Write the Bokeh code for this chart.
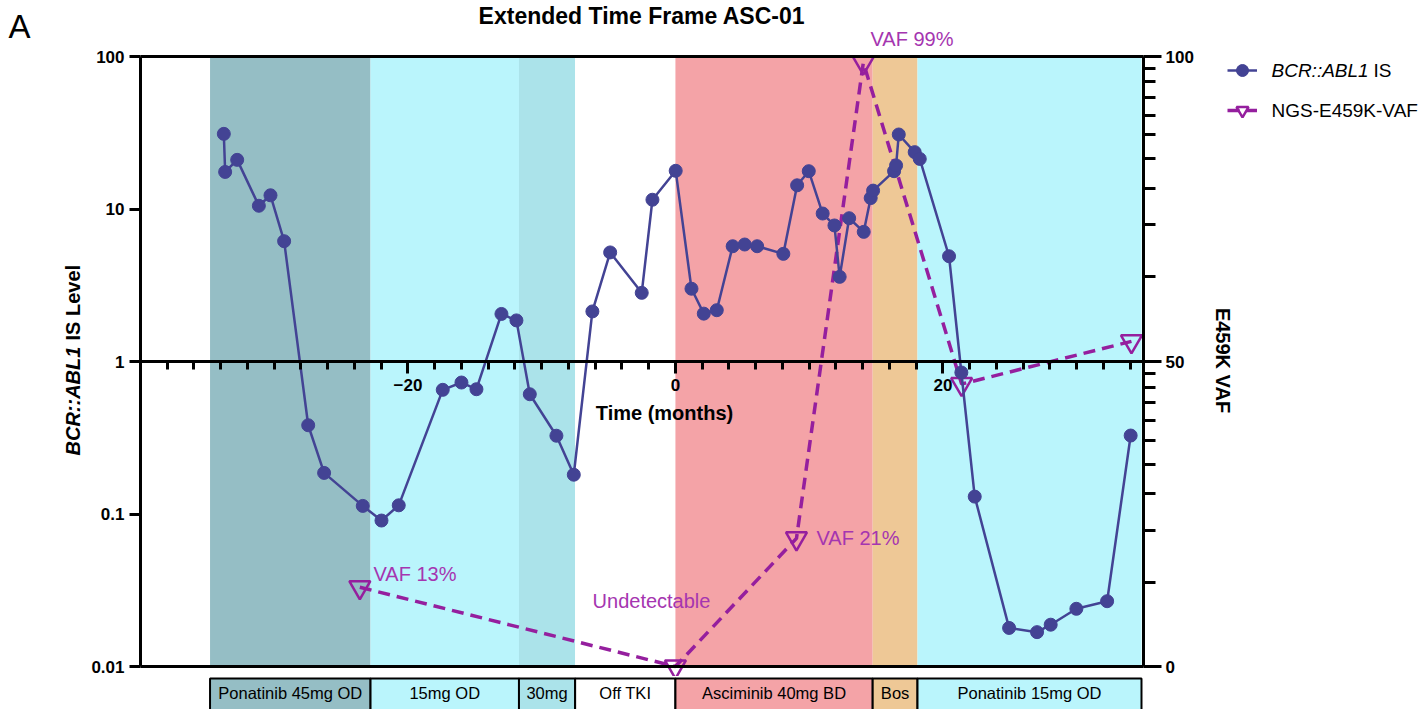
import math
from bokeh.plotting import figure
from bokeh.models import (Range1d, LinearAxis, LinearScale, FixedTicker, CustomJSTickFormatter,
                          Label, Legend, LegendItem)
from bokeh.layouts import column
from bokeh.core.properties import value
from bokeh.embed import file_html
from bokeh.resources import INLINE

FONT = "Liberation Sans"
BLUE = "#434394"
PURPLE = "#951F9E"
PURPLE_TXT = "#A535B0"

# ---- data ----
bcr_time = [-33.77, -33.67, -32.77, -31.15, -30.28, -29.26, -27.46, -26.27, -23.38, -21.98,
            -20.69, -17.40, -16.0, -14.88, -13.01, -11.89, -10.89, -8.90, -7.60, -6.21,
            -4.88, -2.52, -1.72, 0.02, 1.20, 2.12, 3.09, 4.28, 5.18, 6.11,
            8.07, 9.10, 9.97, 11.01, 11.89, 12.28, 12.99, 14.08, 14.60, 14.78,
            16.35, 16.50, 16.70, 17.89, 18.27, 20.46, 21.38, 22.38, 24.95, 27.04,
            28.06, 29.98, 32.28, 34.04]
bcr_is = [31.1, 17.5, 21.0, 10.5, 12.3, 6.15, 0.382, 0.186, 0.113, 0.0906,
          0.114, 0.652, 0.728, 0.658, 2.05, 1.86, 0.610, 0.326, 0.181, 2.13,
          5.19, 2.82, 11.5, 17.8, 3.0, 2.06, 2.17, 5.70, 5.85, 5.70,
          5.08, 14.3, 17.7, 9.34, 7.80, 3.59, 8.70, 7.08, 11.8, 13.2,
          17.7, 19.3, 30.8, 23.6, 21.3, 4.90, 0.847, 0.130, 0.0179, 0.0168,
          0.0188, 0.0239, 0.0268, 0.327]

vaf_time = [-23.6, 0.0, 9.05, 14.05, 21.4, 34.1]
vaf_pct = [13, 0, 21, 99, 46.3, 53.3]
vaf_labels = ["VAF 13%", "Undetectable", "VAF 21%", "VAF 99%"]

treat_names = ["Ponatinib 45mg OD", "15mg OD", "30mg", "Off TKI",
               "Asciminib 40mg BD", "Bos", "Ponatinib 15mg OD"]
treat_start = [-34.8, -22.8, -11.7, -7.5, 0.0, 14.75, 18.1]
treat_end = [-22.8, -11.7, -7.5, 0.0, 14.75, 18.1, 34.85]
treat_colors = ["#95BEC5", "#BAF5FC", "#ABE3EA", "#FFFFFF", "#F4A3A7", "#EEC896", "#BAF5FC"]

x_ticks = [-20, 0, 20]
x_minor = list(range(-38, 36, 2))
y_ticks = [0.01, 0.1, 1, 10, 100]
vaf_ticks = [0, 50, 100]
vaf_minor = [13.8, 22.3, 28.4, 33.1, 37.0, 40.4, 43.2, 45.7, 48.1,
             64.0, 72.4, 78.4, 83.2, 87.2, 90.4, 93.3, 95.9, 98.0]

# ---- layout geometry (pixels) ----
W, H_MAIN, H_STRIP = 1420, 676, 33
FX0, FX1, FY0, FY1 = 140, 1143, 56, 666      # plot box edges
XMIN, XMAX = -40, 35
YMIN, YMAX = 0.01, 100
VMIN, VMAX = 0, 100

kx = (FX1 - FX0) / (XMAX - XMIN)
ky = (FY1 - FY0) / (math.log10(YMAX) - math.log10(YMIN))
kv = (FY1 - FY0) / (VMAX - VMIN)


def px2x(px):
    return XMIN + (px - FX0) / kx


def py2y(py):
    return 10 ** (math.log10(YMIN) + (FY1 - py) / ky)


def py2v(py):
    return VMIN + (FY1 - py) / kv


x_range = Range1d(px2x(0), px2x(W))
y_range = Range1d(py2y(H_MAIN), py2y(0))

p = figure(width=W, height=H_MAIN, x_range=x_range, y_range=y_range, y_axis_type="log",
           min_border=0, output_backend="svg", toolbar_location=None)
p.extra_y_ranges = {"vaf": Range1d(py2v(H_MAIN), py2v(0))}
p.extra_y_scales = {"vaf": LinearScale()}
p.grid.visible = False
p.outline_line_color = None
p.background_fill_color = "white"
p.border_fill_color = "white"

# treatment bands
p.quad(left=treat_start, right=treat_end, bottom=YMIN, top=YMAX,
       fill_color=treat_colors, line_color=None)

# VAF series
vline = p.line(vaf_time, vaf_pct, y_range_name="vaf", line_color=PURPLE, line_width=3.5,
               line_dash="12 7")
vpts = p.scatter(vaf_time, vaf_pct, y_range_name="vaf", marker="inverted_triangle", size=21,
                 fill_color=None, line_color=PURPLE, line_width=2.5)

# BCR::ABL1 series
bline = p.line(bcr_time, bcr_is, line_color=BLUE, line_width=2.5)
bpts = p.scatter(bcr_time, bcr_is, size=13, fill_color=BLUE, line_color=BLUE)


def style_axis(a, tick_out, minor_out=0, size="17px"):
    a.axis_line_width = 3
    a.axis_line_color = "black"
    a.major_tick_line_width = 3
    a.minor_tick_line_width = 3
    a.major_tick_in = 0
    a.major_tick_out = tick_out
    a.minor_tick_in = 0
    a.minor_tick_out = minor_out
    a.major_label_text_font = FONT
    a.major_label_text_font_size = size
    a.major_label_text_font_style = "bold"
    a.major_label_text_color = "black"


# x axis crossing at y = 1
xa = p.xaxis[0]
xa.fixed_location = 1
xa.bounds = (XMIN, XMAX)
xa.ticker = FixedTicker(ticks=x_ticks, minor_ticks=x_minor)
style_axis(xa, 12, 8)
xa.major_label_standoff = 5

# left log axis
ya = p.yaxis[0]
ya.fixed_location = XMIN
ya.bounds = (YMIN, YMAX)
ya.ticker = FixedTicker(ticks=y_ticks, minor_ticks=[])
ya.formatter = CustomJSTickFormatter(code="return tick.toString()")
style_axis(ya, 11)
ya.minor_tick_line_color = None
ya.major_label_standoff = 5

# right VAF axis
ra = LinearAxis(y_range_name="vaf", fixed_location=XMAX, bounds=(VMIN, VMAX),
                ticker=FixedTicker(ticks=vaf_ticks, minor_ticks=vaf_minor))
style_axis(ra, 18, 12)
ra.major_label_standoff = 4
p.add_layout(ra, "right")

# top and bottom box lines
for loc, side in ((YMAX, "above"), (YMIN, "below")):
    b = LinearAxis(fixed_location=loc, bounds=(XMIN, XMAX), ticker=FixedTicker(ticks=[]))
    b.axis_line_width = 3
    b.axis_line_color = "black"
    b.major_tick_line_color = None
    b.minor_tick_line_color = None
    b.major_label_text_font_size = "0px"
    p.add_layout(b, side)

# legend (glyphs only, texts as labels)
legend = Legend(items=[LegendItem(label=" ", renderers=[bline, bpts]),
                       LegendItem(label=" ", renderers=[vline, vpts])],
                location=(1227, H_MAIN - 127), glyph_width=30, glyph_height=34,
                label_height=34, spacing=6, padding=0, margin=0, border_line_color=None,
                background_fill_alpha=0, label_standoff=15, label_text_font_size="1px")
p.add_layout(legend)


def lab(px, py, text, size, style="normal", color="black", align="left", angle=0.0,
        vaf=False):
    kw = dict(x=px2x(px), y=(py2v(py) if vaf else py2y(py)), text=text, text_font=FONT,
              text_font_size=size, text_font_style=style, text_color=color,
              text_align=align, text_baseline="middle", angle=angle)
    if vaf:
        kw["y_range_name"] = "vaf"
    p.add_layout(Label(**kw))


# title and panel letter
lab((FX0 + FX1) / 2, 15, "Extended Time Frame ASC-01", "23px", "bold", align="center")
lab(8, 26, "A", "33px")
# axis titles
lab(664, 412, "Time (months)", "20px", "bold", align="center")
lab(72, 455, "BCR::ABL1", "20px", "bold italic", angle=math.pi / 2)
lab(72, 340, "IS Level", "20px", "bold", angle=math.pi / 2)
lab(1222, 360, "E459K VAF", "20px", "bold", align="center", angle=-math.pi / 2)
# legend texts
lab(1271, 70, "BCR::ABL1", "19px", "italic")
lab(1373, 70, "IS", "19px")
lab(1271, 110, "NGS-E459K-VAF", "19px")
# VAF annotations
lab(373, 573, vaf_labels[0], "20px", color=PURPLE_TXT, vaf=True)
lab(651, 600, vaf_labels[1], "20px", color=PURPLE_TXT, align="center", vaf=True)
lab(816, 537, vaf_labels[2], "20px", color=PURPLE_TXT, vaf=True)
lab(870, 38, vaf_labels[3], "20px", color=PURPLE_TXT, vaf=True)

# ---- treatment strip ----
p2 = figure(width=W, height=H_STRIP, x_range=p.x_range, y_range=Range1d(0, 1),
            x_axis_location=None, y_axis_location=None, min_border=0,
            output_backend="svg", toolbar_location=None)
p2.grid.visible = False
p2.outline_line_color = None
p2.quad(left=treat_start, right=treat_end, bottom=-0.5, top=0.94,
        fill_color=treat_colors, line_color="black", line_width=2)
mids = [(a + b) / 2 for a, b in zip(treat_start, treat_end)]
p2.text(x=mids, y=[0.515] * len(mids), text=treat_names, text_align="center",
        text_baseline="middle", text_font=value(FONT), text_font_size="16.5px",
        text_color="black")

layout = column(p, p2, spacing=0)
open("out.html", "w").write(file_html(layout, INLINE))
